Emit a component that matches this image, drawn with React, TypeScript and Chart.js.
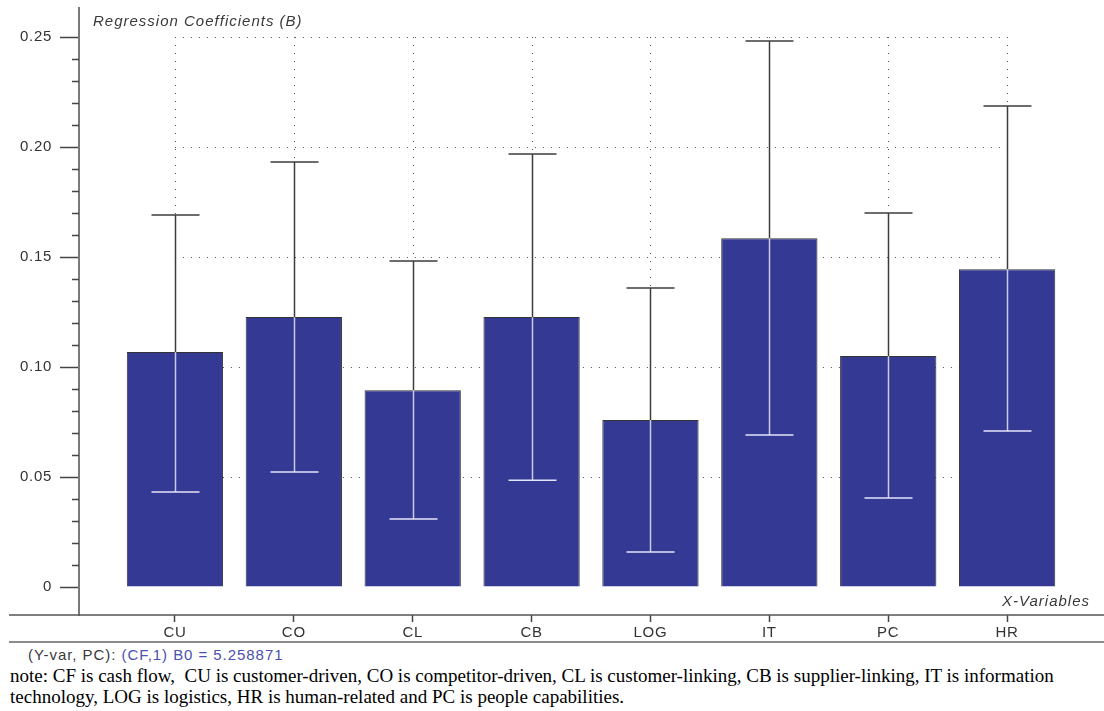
import React, { useEffect, useRef } from 'react';
import { Chart, registerables } from 'chart.js';

Chart.register(...registerables);

const CATEGORIES = ['CU', 'CO', 'CL', 'CB', 'LOG', 'IT', 'PC', 'HR'];
const COEFFICIENTS = [0.1068, 0.1227, 0.0895, 0.1227, 0.0759, 0.1586, 0.105, 0.1445];
const UPPER = [0.1691, 0.1932, 0.1482, 0.1968, 0.1359, 0.2482, 0.17, 0.2186];
const LOWER = [0.0432, 0.0523, 0.0309, 0.0486, 0.0159, 0.0691, 0.0405, 0.0709];
const Y_MAJOR_TICKS = [0, 0.05, 0.1, 0.15, 0.2, 0.25];
const Y_MINOR_TICKS = [
  0.01, 0.02, 0.03, 0.04, 0.06, 0.07, 0.08, 0.09, 0.11, 0.12, 0.13, 0.14,
  0.16, 0.17, 0.18, 0.19, 0.21, 0.22, 0.23, 0.24,
];
const GRID_VALUES = [0.05, 0.1, 0.15, 0.2, 0.25];
const Y_MIN = -0.0127;
const Y_MAX = 0.2632;
const X_MIN = -0.807;
const X_MAX = 7.815;

const AXIS_FONT = "'Liberation Sans', Arial, sans-serif";

const decorPlugin = {
  id: 'decor',
  beforeDraw(chart: any) {
    chart.ctx.letterSpacing = '0.7px';
  },
  beforeDatasetsDraw(chart: any) {
    const { ctx, scales } = chart;
    const x = scales.x;
    const y = scales.y;
    const x0 = x.getPixelForValue(0);
    const x1 = x.getPixelForValue(CATEGORIES.length - 1);
    const yTop = y.getPixelForValue(GRID_VALUES[GRID_VALUES.length - 1]);
    const yZero = y.getPixelForValue(0);
    ctx.save();
    ctx.strokeStyle = '#555';
    ctx.lineWidth = 1;
    ctx.setLineDash([1, 7]);
    GRID_VALUES.forEach((v) => {
      const py = Math.round(y.getPixelForValue(v)) + 0.5;
      ctx.beginPath();
      ctx.moveTo(x0, py);
      ctx.lineTo(x1, py);
      ctx.stroke();
    });
    CATEGORIES.forEach((_, i) => {
      const px = Math.round(x.getPixelForValue(i)) + 0.5;
      ctx.beginPath();
      ctx.moveTo(px, yTop);
      ctx.lineTo(px, yZero);
      ctx.stroke();
    });
    ctx.restore();
  },
  afterDatasetsDraw(chart: any) {
    const { ctx, scales } = chart;
    const x = scales.x;
    const y = scales.y;
    ctx.save();
    ctx.setLineDash([]);
    CATEGORIES.forEach((_, i) => {
      const px = Math.round(x.getPixelForValue(i)) + 0.5;
      const pTop = y.getPixelForValue(UPPER[i]);
      const pBar = y.getPixelForValue(COEFFICIENTS[i]);
      const pLow = y.getPixelForValue(LOWER[i]);
      const capHalf = 24;
      ctx.strokeStyle = '#3c3c3c';
      ctx.lineWidth = 1.5;
      ctx.beginPath();
      ctx.moveTo(px, pTop);
      ctx.lineTo(px, pBar);
      ctx.stroke();
      ctx.beginPath();
      ctx.moveTo(px - capHalf, pTop);
      ctx.lineTo(px + capHalf, pTop);
      ctx.stroke();
      ctx.strokeStyle = '#c9cbef';
      ctx.beginPath();
      ctx.moveTo(px, pBar);
      ctx.lineTo(px, pLow);
      ctx.stroke();
      ctx.strokeStyle = '#e4e5fa';
      ctx.beginPath();
      ctx.moveTo(px - capHalf, pLow);
      ctx.lineTo(px + capHalf, pLow);
      ctx.stroke();
    });
    ctx.restore();
  },
  afterDraw(chart: any) {
    const { ctx, scales, chartArea, width } = chart;
    const y = scales.y;
    ctx.save();
    ctx.setLineDash([]);
    ctx.strokeStyle = '#444';
    ctx.lineWidth = 1.5;
    Y_MINOR_TICKS.forEach((v) => {
      const py = Math.round(y.getPixelForValue(v)) + 0.5;
      ctx.beginPath();
      ctx.moveTo(chartArea.left - 7, py);
      ctx.lineTo(chartArea.left, py);
      ctx.stroke();
    });
    ctx.strokeStyle = '#555';
    ctx.lineWidth = 1.5;
    ctx.beginPath();
    ctx.moveTo(9, chartArea.bottom);
    ctx.lineTo(width, chartArea.bottom);
    ctx.stroke();
    ctx.strokeStyle = '#666';
    ctx.beginPath();
    ctx.moveTo(9, 642);
    ctx.lineTo(width, 642);
    ctx.stroke();
    ctx.letterSpacing = '1px';
    ctx.fillStyle = '#3a3a3a';
    ctx.font = `italic 15px ${AXIS_FONT}`;
    ctx.textBaseline = 'middle';
    ctx.textAlign = 'left';
    ctx.fillText('Regression Coefficients (B)', 93, 22);
    ctx.textAlign = 'right';
    ctx.fillText('X-Variables', 1090, 602);
    ctx.restore();
  },
};

export default function App() {
  const canvasRef = useRef<HTMLCanvasElement | null>(null);

  useEffect(() => {
    if (!canvasRef.current) return;
    const chart = new Chart(canvasRef.current, {
      type: 'bar',
      data: {
        datasets: [
          {
            label: 'Regression Coefficients (B)',
            data: CATEGORIES.map((_, i) => ({ x: i, y: COEFFICIENTS[i] })),
            backgroundColor: '#343a94',
            borderColor: '#333333',
            borderWidth: 1,
            barPercentage: 0.81,
            categoryPercentage: 1,
          },
        ],
      },
      options: {
        animation: false,
        responsive: false,
        maintainAspectRatio: false,
        layout: { padding: { top: 8, left: 0, right: 0, bottom: 0 } },
        plugins: {
          legend: { display: false },
          tooltip: { enabled: false },
          title: { display: false },
        },
        scales: {
          x: {
            type: 'linear',
            min: X_MIN,
            max: X_MAX,
            offset: false,
            afterBuildTicks: (scale: any) => {
              scale.ticks = CATEGORIES.map((_, i) => ({ value: i }));
            },
            afterFit: (scale: any) => {
              scale.height = 30;
              scale.paddingLeft = 0;
              scale.paddingRight = 0;
            },
            ticks: {
              autoSkip: false,
              maxRotation: 0,
              padding: 2,
              color: '#333',
              font: { family: AXIS_FONT, size: 15 },
              callback: (v: any) => CATEGORIES[Math.round(v)] ?? '',
            },
            grid: {
              display: true,
              offset: false,
              drawOnChartArea: false,
              drawTicks: true,
              tickLength: 7,
              tickColor: '#444',
              tickWidth: 1.5,
            },
            border: { display: false },
          },
          y: {
            type: 'linear',
            min: Y_MIN,
            max: Y_MAX,
            afterBuildTicks: (scale: any) => {
              scale.ticks = Y_MAJOR_TICKS.map((v) => ({ value: v }));
            },
            afterFit: (scale: any) => {
              scale.width = 79;
              scale.paddingTop = 0;
              scale.paddingBottom = 0;
            },
            ticks: {
              autoSkip: false,
              padding: 8,
              color: '#333',
              font: { family: AXIS_FONT, size: 15 },
              callback: (v: any) => (Math.abs(v) < 1e-9 ? '0' : Number(v).toFixed(2)),
            },
            grid: {
              display: true,
              drawOnChartArea: false,
              drawTicks: true,
              tickLength: 19,
              tickColor: '#444',
              tickWidth: 1.5,
            },
            border: { display: true, color: '#7a7a7a', width: 2 },
          },
        },
      },
      plugins: [decorPlugin],
    } as any);
    return () => chart.destroy();
  }, []);

  return (
    <div style={{ position: 'absolute', left: 0, top: 0, width: 1104, height: 711, background: '#fff', overflow: 'hidden' }}>
      <canvas ref={canvasRef} width={1104} height={645} style={{ display: 'block', width: 1104, height: 645 }} />
      <div
        style={{
          position: 'absolute',
          left: 28,
          top: 646,
          fontFamily: AXIS_FONT,
          fontSize: 15,
          lineHeight: '17px',
          letterSpacing: '0.95px',
          whiteSpace: 'nowrap',
          color: '#3a3a3a',
        }}
      >
        (Y-var, PC): <span style={{ color: '#4a50b0' }}>(CF,1) B0 = 5.258871</span>
      </div>
      <div
        style={{
          position: 'absolute',
          left: 10,
          top: 665,
          fontFamily: "'Liberation Serif', 'Times New Roman', serif",
          fontSize: 19,
          lineHeight: '21px',
          whiteSpace: 'pre',
          color: '#000',
        }}
      >
        {'note: CF is cash flow,  CU is customer-driven, CO is competitor-driven, CL is customer-linking, CB is supplier-linking, IT is information\ntechnology, LOG is logistics, HR is human-related and PC is people capabilities.'}
      </div>
    </div>
  );
}
